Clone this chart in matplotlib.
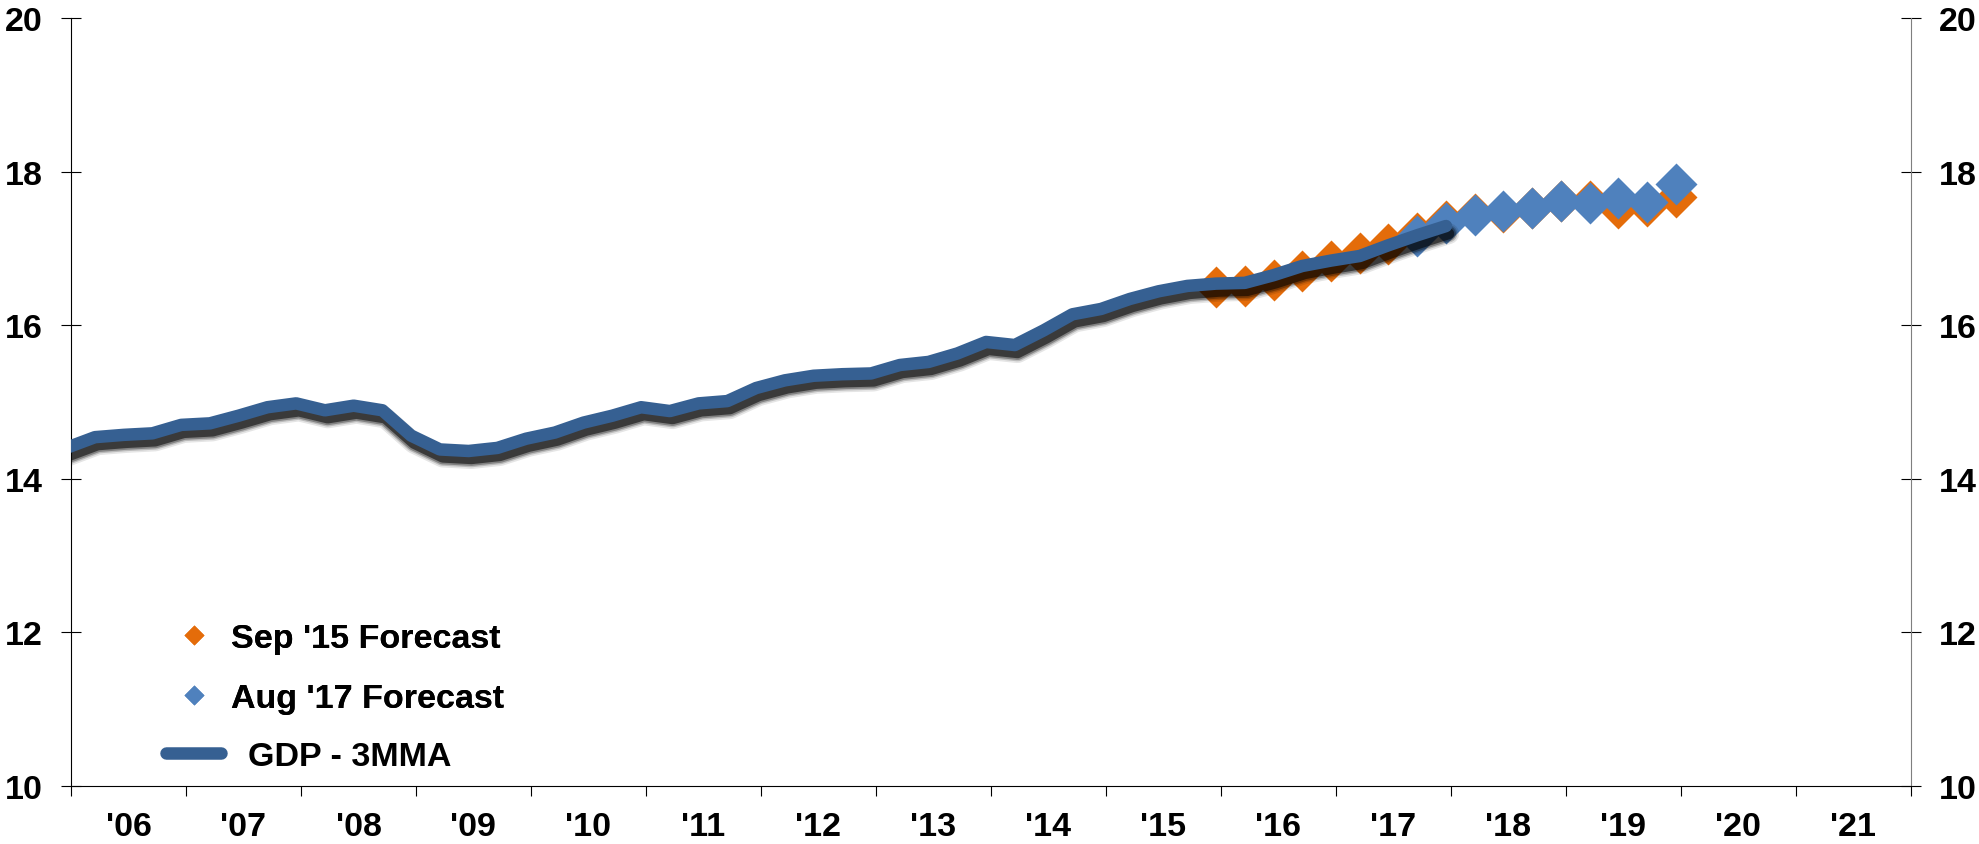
import numpy as np
import pandas as pd
import matplotlib
matplotlib.use("Agg")
import matplotlib.pyplot as plt
import matplotlib.patheffects as pe
from matplotlib.lines import Line2D

plt.rcParams['font.family'] = ['Liberation Sans', 'DejaVu Sans']
plt.rcParams['font.weight'] = 'bold'

# quarterly GDP, 3 month moving average
gdp_q = pd.period_range('2005Q4', '2017Q4', freq='Q')
gdp = [14.40,
       14.54, 14.57, 14.59, 14.70,
       14.72, 14.82, 14.93, 14.98,
       14.89, 14.95, 14.89, 14.56,
       14.38, 14.36, 14.40, 14.52,
       14.60, 14.73, 14.82, 14.93,
       14.88, 14.98, 15.01, 15.18,
       15.28, 15.34, 15.36, 15.37,
       15.48, 15.52, 15.63, 15.78,
       15.74, 15.93, 16.14, 16.21,
       16.34, 16.44, 16.51, 16.54,
       16.55, 16.65, 16.77, 16.84,
       16.90, 17.04, 17.17, 17.29]

sep15_q = pd.period_range('2015Q4', '2019Q4', freq='Q')
sep15 = [16.49, 16.51, 16.59, 16.70, 16.83, 16.94, 17.06, 17.20, 17.35,
         17.45, 17.47, 17.52, 17.61, 17.61, 17.53, 17.55, 17.67]

aug17_q = pd.period_range('2017Q3', '2019Q4', freq='Q')
aug17 = [17.16, 17.33, 17.43, 17.49, 17.53, 17.61, 17.59, 17.65, 17.60, 17.84]

years = list(range(2006, 2022))
year_labels = ["'%02d" % (y % 100) for y in years]


def qx(periods):
    # place each quarter in the middle of its last month
    return np.array([p.year + (p.quarter * 3 - 0.5) / 12 for p in periods])


c_line = '#366092'
c_blue = '#4F81BD'
c_orange = '#E46C0A'

fig = plt.figure(figsize=(19.79, 8.45), dpi=100)
ax = fig.add_axes([71 / 1979, 1 - 786.7 / 845, (1910.7 - 71) / 1979, (786.7 - 19) / 845])

ax.plot(qx(sep15_q), sep15, linestyle='none', marker='D', ms=21,
        color=c_orange, mec='none', zorder=2)
ax.plot(qx(aug17_q), aug17, linestyle='none', marker='D', ms=21,
        color=c_blue, mec='none', zorder=3)

lw = 9
off = (2, -5.5)
shadow = [pe.SimpleLineShadow(offset=off, shadow_color='k', alpha=0.10, linewidth=lw + 6),
          pe.SimpleLineShadow(offset=off, shadow_color='k', alpha=0.18, linewidth=lw + 3.5),
          pe.SimpleLineShadow(offset=off, shadow_color='k', alpha=0.30, linewidth=lw + 1.5),
          pe.SimpleLineShadow(offset=off, shadow_color='k', alpha=0.55, linewidth=lw - 1),
          pe.Normal()]
ax.plot(qx(gdp_q), gdp, color=c_line, lw=lw, solid_capstyle='round',
        solid_joinstyle='round', path_effects=shadow, zorder=4)

ax.set_xlim(2006, 2022)
ax.set_ylim(10, 20)

ax.set_xticks(years + [2022])
ax.set_xticklabels([])
ax.set_xticks([y + 0.5 for y in years], minor=True)
ax.set_xticklabels(year_labels, minor=True)
ax.tick_params(axis='x', which='major', direction='out', length=7.2, width=0.8)
ax.tick_params(axis='x', which='minor', length=0, pad=18, labelsize=24.5)

ax.set_yticks(range(10, 21, 2))
ax.tick_params(axis='y', which='major', direction='inout', length=14.4, width=0.8,
               labelsize=24.5, pad=13, left=True, right=True, labelleft=True, labelright=True)

ax.spines['top'].set_visible(False)
ax.spines['left'].set_linewidth(0.8)
ax.spines['bottom'].set_linewidth(0.8)
ax.spines['right'].set_linewidth(0.8)
ax.spines['right'].set_color('#7f7f7f')

# forecast markers and the GDP line sit in two legends so the text indents can differ
fc_handles = [Line2D([], [], linestyle='none', marker='D', ms=10, color=c_orange, mec='none'),
              Line2D([], [], linestyle='none', marker='D', ms=10, color=c_blue, mec='none')]
fc_labels = ["Sep '15 Forecast", "Aug '17 Forecast"]
leg1 = fig.legend(fc_handles, fc_labels, loc='upper left', bbox_to_anchor=(166 / 1979, 1 - 624 / 845),
                  frameon=False, fontsize=24.5, handlelength=1.62, handletextpad=0.3,
                  labelspacing=0.86, borderpad=0, borderaxespad=0)

line_handle = [Line2D([], [], color=c_line, lw=lw, solid_capstyle='round')]
fig.legend(line_handle, ["GDP - 3MMA"], loc='upper left', bbox_to_anchor=(166 / 1979, 1 - 742 / 845),
           frameon=False, fontsize=24.5, handlelength=1.62, handletextpad=0.8,
           borderpad=0, borderaxespad=0)
fig.add_artist(leg1)

fig.savefig('out.png', dpi=100)
